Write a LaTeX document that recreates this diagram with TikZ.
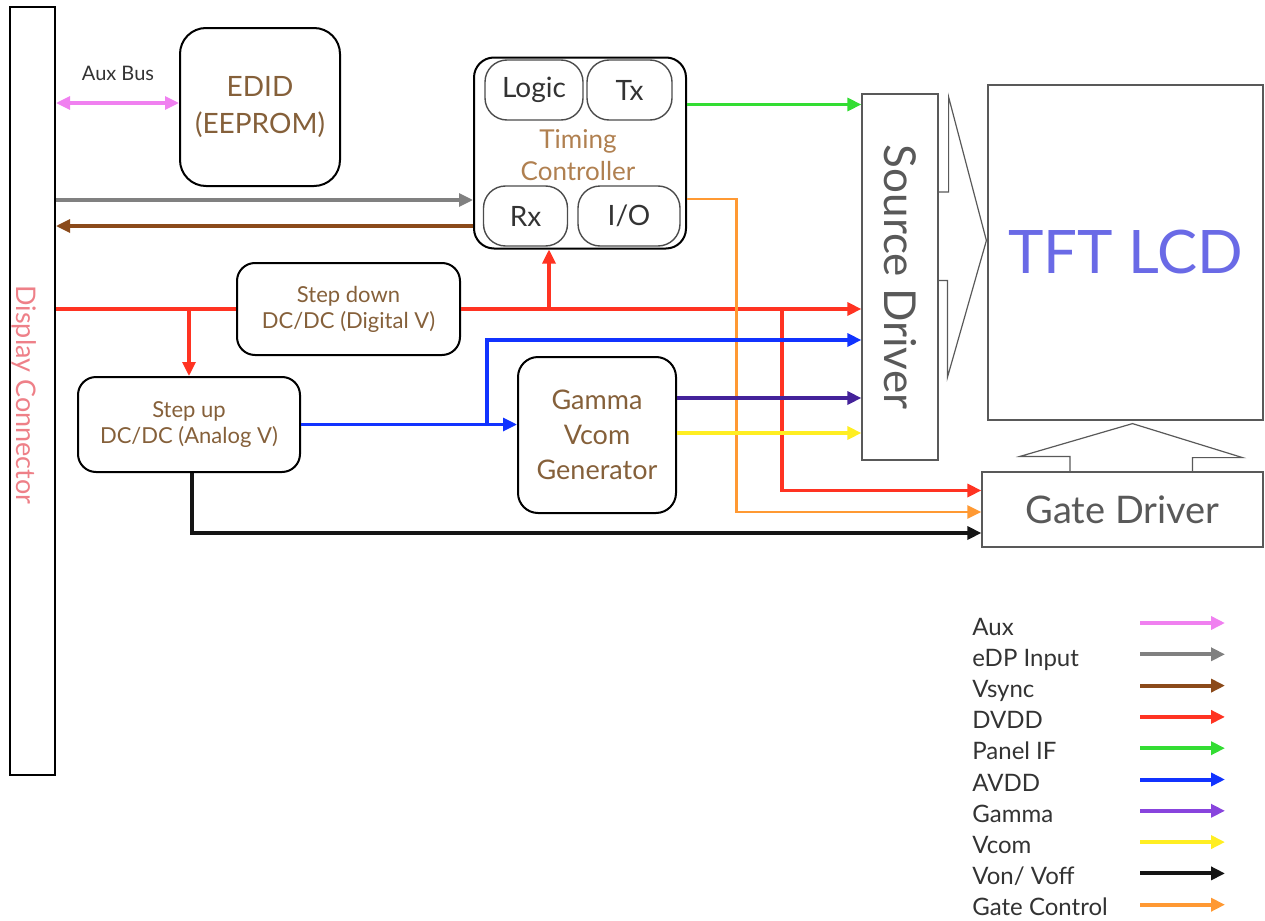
\documentclass[tikz,border=0pt]{standalone}
\usepackage{fontspec}
\setmainfont{Lato}
\usetikzlibrary{arrows.meta,calc,positioning}
\definecolor{auxc}{HTML}{F080F0}
\definecolor{edpc}{HTML}{808080}
\definecolor{vsyncc}{HTML}{8B4A1A}
\definecolor{dvddc}{HTML}{FF3322}
\definecolor{panelc}{HTML}{33DD33}
\definecolor{avddc}{HTML}{1133FF}
\definecolor{gammac}{HTML}{8844DD}
\definecolor{gammad}{HTML}{44229A}
\definecolor{vcomc}{HTML}{FFEE22}
\definecolor{vonc}{HTML}{151515}
\definecolor{gatec}{HTML}{FF9933}
\definecolor{labc}{HTML}{85603A}
\definecolor{tcc}{HTML}{B08050}
\definecolor{tftc}{HTML}{6A6AE6}
\definecolor{connc}{HTML}{EE8088}
\definecolor{txtc}{HTML}{333333}
\tikzset{sig/.style={line width=1.6pt, -{Triangle[length=7pt,width=6.5pt]}},
  rblk/.style={draw, line width=1pt, align=center, text=labc},
  sub/.style={draw=black!70, line width=0.7pt, rounded corners=11pt, minimum height=30pt, text=txtc,
    font=\fontsize{14pt}{16pt}\selectfont},
  pblk/.style={draw=black!65, line width=0.6pt, align=center}}

\begin{document}
\begin{tikzpicture}[x=0.5pt, y=-0.5pt, font=\fontsize{11pt}{13pt}\selectfont]
  \useasboundingbox (0,0) rectangle (1265,921);
  % connector and EDID
  \node[draw, line width=1pt, minimum width=22.5pt, minimum height=384pt] (conn) at (32.5,391) {};
  \node[rotate=-90, text=connc, font=\fontsize{13.5pt}{16pt}\selectfont] (connlbl) at (24,395) {Display Connector};
  \node[rblk, rounded corners=13pt, minimum width=80pt, minimum height=79pt,
    font=\fontsize{14pt}{18.5pt}\selectfont] (edid) at (260,107) {EDID\\(EEPROM)};
  \node[text=txtc, font=\fontsize{10pt}{12pt}\selectfont] (auxlbl) at (118,73) {Aux Bus};
  % timing controller
  \node[rblk, rounded corners=10pt, minimum width=106pt, minimum height=95.5pt] (tcon) at (580,153) {};
  \node[sub, minimum width=49pt] (logic) at (534,90) {Logic};
  \node[sub, minimum width=42.5pt] (tx) at (629.5,90) {Tx};
  \node[sub, minimum width=42pt] (rx) at (525.5,216) {Rx};
  \node[sub, minimum width=51pt] (io) at (629,216) {I/O};
  \node[text=tcc, align=center, font=\fontsize{13pt}{16pt}\selectfont] (tclbl) at (578,155) {Timing\\Controller};
  % power blocks
  \node[rblk, rounded corners=9pt, minimum width=111.5pt, minimum height=46pt] (sdown) at (348.5,309) {Step down\\DC/DC (Digital V)};
  \node[rblk, rounded corners=9pt, minimum width=111pt, minimum height=47.5pt] (sup) at (189,424.5) {Step up\\DC/DC (Analog V)};
  \node[rblk, rounded corners=10pt, minimum width=79pt, minimum height=78pt,
    font=\fontsize{13.5pt}{17.5pt}\selectfont] (gamma) at (597,435) {Gamma\\Vcom\\Generator};
  % panel side
  \node[pblk, minimum width=38pt, minimum height=183pt] (src) at (900,277) {};
  \node[rotate=-90, text=black!65, font=\fontsize{22pt}{26pt}\selectfont] (srclbl) at (src) {Source Driver};
  \node[pblk, minimum width=137.5pt, minimum height=167.5pt, text=tftc,
    font=\fontsize{30pt}{34pt}\selectfont] (tft) at (1125.5,252.5) {TFT LCD};
  \node[pblk, minimum width=140.5pt, minimum height=37.5pt, text=black!65,
    font=\fontsize{19pt}{22pt}\selectfont] (gate) at (1122.5,509.5) {Gate Driver};
  \draw[black!65, line width=0.6pt] ($(src.east)+(0,-85)$) -- ++(10,0) -- ++(0,-95) -- ($(tft.west)+(-1,-12)$)
    -- ++(-39,137) -- ++(0,-97) -- ++(-10,0);
  \draw[black!65, line width=0.6pt] ($(gate.north)+(-52.5,0)$) -- ++(0,-15) -- ++(-50,0) -- ($(tft.south)+(7,3)$)
    -- ++(110,34) -- ++(-50,0) -- ++(0,15);
  % signals
  \draw[sig, auxc, {Triangle[length=7pt,width=6.5pt]}-{Triangle[length=7pt,width=6.5pt]}]
    ($(conn.east |- edid.west)+(0,-4)$) -- ($(edid.west)+(0,-4)$);
  \coordinate (edpin) at ($(tcon.west)+(0,47)$);
  \coordinate (vsout) at ($(tcon.west)+(0,73)$);
  \draw[sig, edpc] (conn.east |- edpin) -- (edpin);
  \draw[sig, vsyncc] (vsout) -- (conn.east |- vsout);
  \coordinate (txout) at ($(tcon.north east)+(0,48)$);
  \draw[sig, panelc] (txout) -- (src.west |- txout);
  % DVDD
  \draw[line width=1.6pt, dvddc] (conn.east |- sdown.west) -- (sdown.west);
  \draw[sig, dvddc] (sdown.east) -- (src.west |- sdown.east);
  \draw[sig, dvddc] (sup.north |- sdown.west) -- (sup.north);
  \coordinate (tcpin) at ($(tcon.south)+(-31,0)$);
  \draw[sig, dvddc] (tcpin |- sdown.east) -- (tcpin);
  \coordinate (gdv) at ($(gate.west)+(0,-19)$);
  \draw[sig, dvddc] ($(sdown.east)+(321,0)$) |- (gdv);
  % gate control
  \coordinate (gctl) at ($(gate.west)+(0,2.5)$);
  \draw[sig, gatec, line width=1.3pt] ($(tcon.east)+(0,46)$) -| ($(gctl)+(-245,0)$) -- (gctl);
  % AVDD, gamma, vcom
  \draw[sig, avddc] (sup.east) -- (sup.east -| gamma.west);
  \coordinate (avsrc) at ($(src.west)+(0,63)$);
  \draw[sig, avddc] ($(sup.east -| gamma.west)+(-30,0)$) |- (avsrc);
  \coordinate (gmout) at ($(gamma.east)+(0,-37)$);
  \coordinate (vcout) at ($(gamma.east)+(0,-2)$);
  \draw[sig, gammad] (gmout) -- (src.west |- gmout);
  \draw[sig, vcomc] (vcout) -- (src.west |- vcout);
  % Von/Voff
  \coordinate (gvon) at ($(gate.west)+(0,23.5)$);
  \draw[sig, vonc] ($(sup.south)+(3,0)$) |- (gvon);
  % legend
  \foreach \lab/\col [count=\i from 0] in {Aux/auxc, eDP Input/edpc, Vsync/vsyncc, DVDD/dvddc,
      Panel IF/panelc, AVDD/avddc, Gamma/gammac, Vcom/vcomc, {Von/ Voff}/vonc, Gate Control/gatec}{
    \node[anchor=base west, inner sep=0pt, text=txtc, font=\fontsize{12pt}{14pt}\selectfont] (leg\i) at (972,635+31.2*\i) {\lab};
    \coordinate (lega\i) at (1140,623+31.3*\i);
    \draw[sig, \col, line width=2pt] (lega\i) -- ++(85,0);
  }
\end{tikzpicture}
\end{document}
